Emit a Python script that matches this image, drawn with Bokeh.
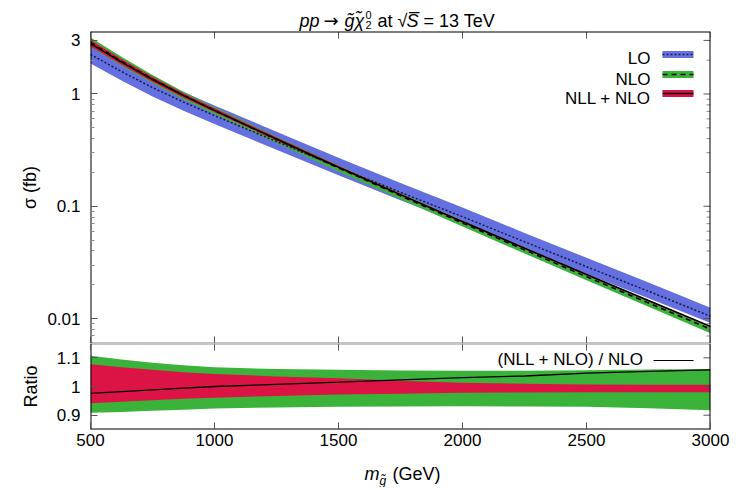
import numpy as np
from bokeh.plotting import figure
from bokeh.models import (Range1d, LinearAxis, FixedTicker, CustomJSTickFormatter,
                          Label, LinearScale)
from bokeh.layouts import column
from bokeh.embed import file_html
from bokeh.resources import INLINE
from bokeh.core.properties import value

# ---------------- data ----------------
mass = [500, 625, 750, 875, 1000, 1250, 1500, 1750, 2000, 2250, 2500, 2750, 3000]

sigma_lo = [2.25, 1.585, 1.14, 0.847, 0.643, 0.377, 0.222, 0.133, 0.0808, 0.0483, 0.0290,
            0.0175, 0.0105]
lo_up = [1.24, 1.237, 1.235, 1.232, 1.23, 1.225, 1.22, 1.21, 1.21, 1.20, 1.20, 1.195, 1.19]
lo_dn = [0.83, 0.832, 0.835, 0.838, 0.84, 0.845, 0.85, 0.85, 0.855, 0.86, 0.86, 0.865, 0.87]

sigma_nlo = [2.88, 1.956, 1.362, 0.974, 0.714, 0.394, 0.2197, 0.1241, 0.0709, 0.0409,
             0.0236, 0.01377, 0.00806]
nlo_up = [1.107, 1.094, 1.083, 1.074, 1.067, 1.061, 1.058, 1.056, 1.055, 1.055, 1.057,
          1.059, 1.061]
nlo_dn = [0.908, 0.911, 0.915, 0.919, 0.923, 0.927, 0.929, 0.930, 0.931, 0.930, 0.929,
          0.924, 0.917]

sigma_nll = [2.81, 1.921, 1.346, 0.9685, 0.714, 0.397, 0.223, 0.127, 0.0731, 0.0424,
             0.0247, 0.0145, 0.00853]
nll_up = [1.078, 1.067, 1.058, 1.050, 1.044, 1.035, 1.029, 1.020, 1.013, 1.010, 1.007,
          1.006, 1.006]
nll_dn = [0.942, 0.947, 0.952, 0.957, 0.961, 0.967, 0.972, 0.975, 0.978, 0.979, 0.980,
          0.980, 0.980]

x_ticks = [500, 1000, 1500, 2000, 2500, 3000]
y_ticks = [0.01, 0.1, 1, 3]
y_minor = [0.006, 0.007, 0.008, 0.009, 0.02, 0.03, 0.04, 0.05, 0.06, 0.07, 0.08, 0.09,
           0.2, 0.3, 0.4, 0.5, 0.6, 0.7, 0.8, 0.9, 2]
ratio_ticks = [0.9, 1, 1.1]

legend_labels = ["LO", "NLO", "NLL + NLO"]
ratio_label = "(NLL + NLO) / NLO"

# ---------------- derived ----------------
m = np.array(mass, dtype=float)
lo = np.array(sigma_lo); nlo = np.array(sigma_nlo); nll = np.array(sigma_nll)
lo_hi, lo_lo = lo * np.array(lo_up), lo * np.array(lo_dn)
nlo_hi, nlo_lo = nlo * np.array(nlo_up), nlo * np.array(nlo_dn)
nll_hi, nll_lo = nll * np.array(nll_up), nll * np.array(nll_dn)
ratio_central = nll / nlo

FONT = "Liberation Sans"
BLUE = "#6470e0"
GREEN = "#3bb33b"
RED = "#dc1446"
LO_LINE = "#161650"
TICK = "#555555"
MINOR = "#8a8a8a"
SHARED = "#8a8a8a"

W = 740
FRAME_W = 620
ML = 90
MR = W - ML - FRAME_W
MAIN_FH = 312
RAT_FH = 86

fmt = CustomJSTickFormatter(code="return tick.toString();")


def base_fig(height, y_range, log=False, top=0, bottom=0):
    f = figure(width=W, height=height, x_range=xr, y_range=y_range,
               y_axis_type="log" if log else "linear",
               x_axis_location=None, y_axis_location=None,
               output_backend="svg", toolbar_location=None,
               min_border_left=ML, min_border_right=MR,
               min_border_top=top, min_border_bottom=bottom)
    f.outline_line_color = None
    f.grid.visible = False
    f.background_fill_color = "white"
    f.border_fill_color = "white"
    return f


def style(ax, label_size="17px"):
    ax.axis_line_color = None
    ax.major_tick_in = 7
    ax.major_tick_out = 0
    ax.minor_tick_in = 4
    ax.minor_tick_out = 0
    ax.major_tick_line_color = TICK
    ax.minor_tick_line_color = MINOR
    ax.major_label_text_font = FONT
    ax.major_label_text_font_size = label_size
    ax.major_label_text_color = "black"
    ax.major_label_standoff = 10
    ax.axis_label_text_font = FONT
    ax.axis_label_text_font_size = "18px"
    ax.axis_label_text_font_style = "normal"
    ax.axis_label_text_color = "black"


def frame_lines(f, fh, top_color, bottom_color):
    kw = dict(x_range_name="fx", y_range_name="fy", line_width=2)
    f.segment(x0=[0], x1=[FRAME_W], y0=[fh], y1=[fh], line_color=top_color, **kw)
    f.segment(x0=[0], x1=[FRAME_W], y0=[0], y1=[0], line_color=bottom_color, **kw)
    f.segment(x0=[0, FRAME_W], x1=[0, FRAME_W], y0=[0, 0], y1=[fh, fh],
              line_color="black", **kw)


xr = Range1d(500, 3000)

# ---------------- title strip ----------------
t = base_fig(31, Range1d(0, 1))
TY = 11
title_pieces = [
    ("pp", 209, TY, "italic", "18px", FONT),
    ("→", 233, TY, "normal", "18px", "DejaVu Sans"),
    ("g\u0303", 254, TY, "italic", "18px", FONT),
    ("χ\u0303", 264, TY, "italic", "18px", FONT),
    ("0", 275, TY + 6, "normal", "11px", FONT),
    ("2", 275, TY - 4, "normal", "11px", FONT),
    ("at", 287, TY, "normal", "18px", FONT),
    ("√", 307, TY, "normal", "18px", FONT),
    ("S\u0305", 316, TY, "italic", "18px", FONT),
    ("= 13 TeV", 333, TY, "normal", "18px", FONT),
]
for txt, x, y, st, sz, fnt in title_pieces:
    t.add_layout(Label(x=x, y=y, x_units="screen", y_units="screen", text=txt,
                       text_font=fnt, text_font_size=sz, text_font_style=st,
                       text_align="left", text_baseline="alphabetic", text_color="black"))

# ---------------- main panel ----------------
p = base_fig(MAIN_FH, Range1d(0.006, 3.6), log=True)
p.extra_x_ranges = {"fx": Range1d(0, FRAME_W)}
p.extra_y_ranges = {"fy": Range1d(0, MAIN_FH)}
p.extra_x_scales = {"fx": LinearScale()}
p.extra_y_scales = {"fy": LinearScale()}

left = LinearAxis(ticker=FixedTicker(ticks=y_ticks, minor_ticks=y_minor), formatter=fmt,
                  axis_label="σ (fb)")
style(left)
left.axis_label_standoff = 4
p.add_layout(left, "left")

p.varea(x=m, y1=lo_lo, y2=lo_hi, fill_color=BLUE)
p.varea(x=m, y1=nlo_lo, y2=nlo_hi, fill_color=GREEN)
p.varea(x=m, y1=nll_lo, y2=nll_hi, fill_color=RED)
p.line(m, lo, line_color=LO_LINE, line_width=1.5, line_dash="2 2")
p.line(m, nlo, line_color="black", line_width=1.5, line_dash="5 4")
p.line(m, nll, line_color="black", line_width=1.5)

# ticks on top / bottom / right of the main frame
n = len(x_ticks)
p.segment(x0=x_ticks, x1=x_ticks, y0=[MAIN_FH] * n, y1=[MAIN_FH - 7] * n,
          y_range_name="fy", line_color=TICK, line_width=1)
p.segment(x0=x_ticks, x1=x_ticks, y0=[0] * n, y1=[7] * n,
          y_range_name="fy", line_color=TICK, line_width=1)
p.segment(x0=[FRAME_W] * len(y_ticks), x1=[FRAME_W - 7] * len(y_ticks), y0=y_ticks,
          y1=y_ticks, x_range_name="fx", line_color=TICK, line_width=1)
p.segment(x0=[FRAME_W] * len(y_minor), x1=[FRAME_W - 4] * len(y_minor), y0=y_minor,
          y1=y_minor, x_range_name="fx", line_color=MINOR, line_width=1)
frame_lines(p, MAIN_FH, "black", SHARED)

# legend (text left, sample right, as in the reference)
leg_text_y = [285, 264, 245]
leg_box_y = [289, 269, 250]
p.text(x=[560] * 3, y=leg_text_y, text=legend_labels, x_range_name="fx", y_range_name="fy",
       text_font=value(FONT), text_font_size="17px", text_align="right",
       text_baseline="alphabetic", text_color="black")
p.quad(left=[572] * 3, right=[603] * 3, bottom=[b - 3.5 for b in leg_box_y],
       top=[b + 3.5 for b in leg_box_y], fill_color=[BLUE, GREEN, RED], line_color=None,
       x_range_name="fx", y_range_name="fy")
p.segment(x0=[572], x1=[603], y0=[leg_box_y[0]], y1=[leg_box_y[0]], line_color=LO_LINE,
          line_width=1.5, line_dash="2 2", x_range_name="fx", y_range_name="fy")
p.segment(x0=[572], x1=[603], y0=[leg_box_y[1]], y1=[leg_box_y[1]], line_color="black",
          line_width=1.5, line_dash="5 4", x_range_name="fx", y_range_name="fy")
p.segment(x0=[572], x1=[603], y0=[leg_box_y[2]], y1=[leg_box_y[2]], line_color="black",
          line_width=1.5, x_range_name="fx", y_range_name="fy")

# ---------------- ratio panel ----------------
r = base_fig(RAT_FH + 26, Range1d(0.85, 1.15), bottom=26)
r.extra_x_ranges = {"fx": Range1d(0, FRAME_W)}
r.extra_y_ranges = {"fy": Range1d(0, RAT_FH)}

rl = LinearAxis(ticker=FixedTicker(ticks=ratio_ticks), formatter=fmt, axis_label="Ratio")
style(rl)
rl.axis_label_standoff = 13
r.add_layout(rl, "left")
rb = LinearAxis(ticker=FixedTicker(ticks=x_ticks), formatter=fmt)
style(rb)
rb.major_label_standoff = 4
r.add_layout(rb, "below")

r.varea(x=m, y1=np.array(nlo_dn), y2=np.array(nlo_up), fill_color=GREEN)
r.varea(x=m, y1=np.array(nll_dn), y2=np.array(nll_up), fill_color=RED)
r.line(m, ratio_central, line_color="black", line_width=1.3)

r.segment(x0=x_ticks, x1=x_ticks, y0=[RAT_FH] * n, y1=[RAT_FH - 7] * n,
          y_range_name="fy", line_color=TICK, line_width=1)
r.segment(x0=[FRAME_W] * 3, x1=[FRAME_W - 7] * 3, y0=ratio_ticks, y1=ratio_ticks,
          x_range_name="fx", line_color=TICK, line_width=1)
frame_lines(r, RAT_FH, SHARED, "black")

r.text(x=[553], y=[70], text=[ratio_label], x_range_name="fx", y_range_name="fy",
       text_font=value(FONT), text_font_size="17px", text_align="right",
       text_baseline="alphabetic", text_color="black")
r.segment(x0=[563], x1=[603], y0=[69], y1=[69], line_color="black", line_width=1.2,
          x_range_name="fx", y_range_name="fy")

# ---------------- x-axis title strip: m_{g~} (GeV) ----------------
xl = base_fig(32, Range1d(0, 1))
XY = 14
for txt, x, y, st, sz in [("m", 274, XY, "italic", "18px"),
                          ("g\u0303", 289, XY - 7, "italic", "12px"),
                          ("(GeV)", 302, XY, "normal", "18px")]:
    xl.add_layout(Label(x=x, y=y, x_units="screen", y_units="screen", text=txt,
                        text_font=FONT, text_font_size=sz, text_font_style=st,
                        text_align="left", text_baseline="alphabetic", text_color="black"))

layout = column(t, p, r, xl)
open("out.html", "w").write(file_html(layout, INLINE))
